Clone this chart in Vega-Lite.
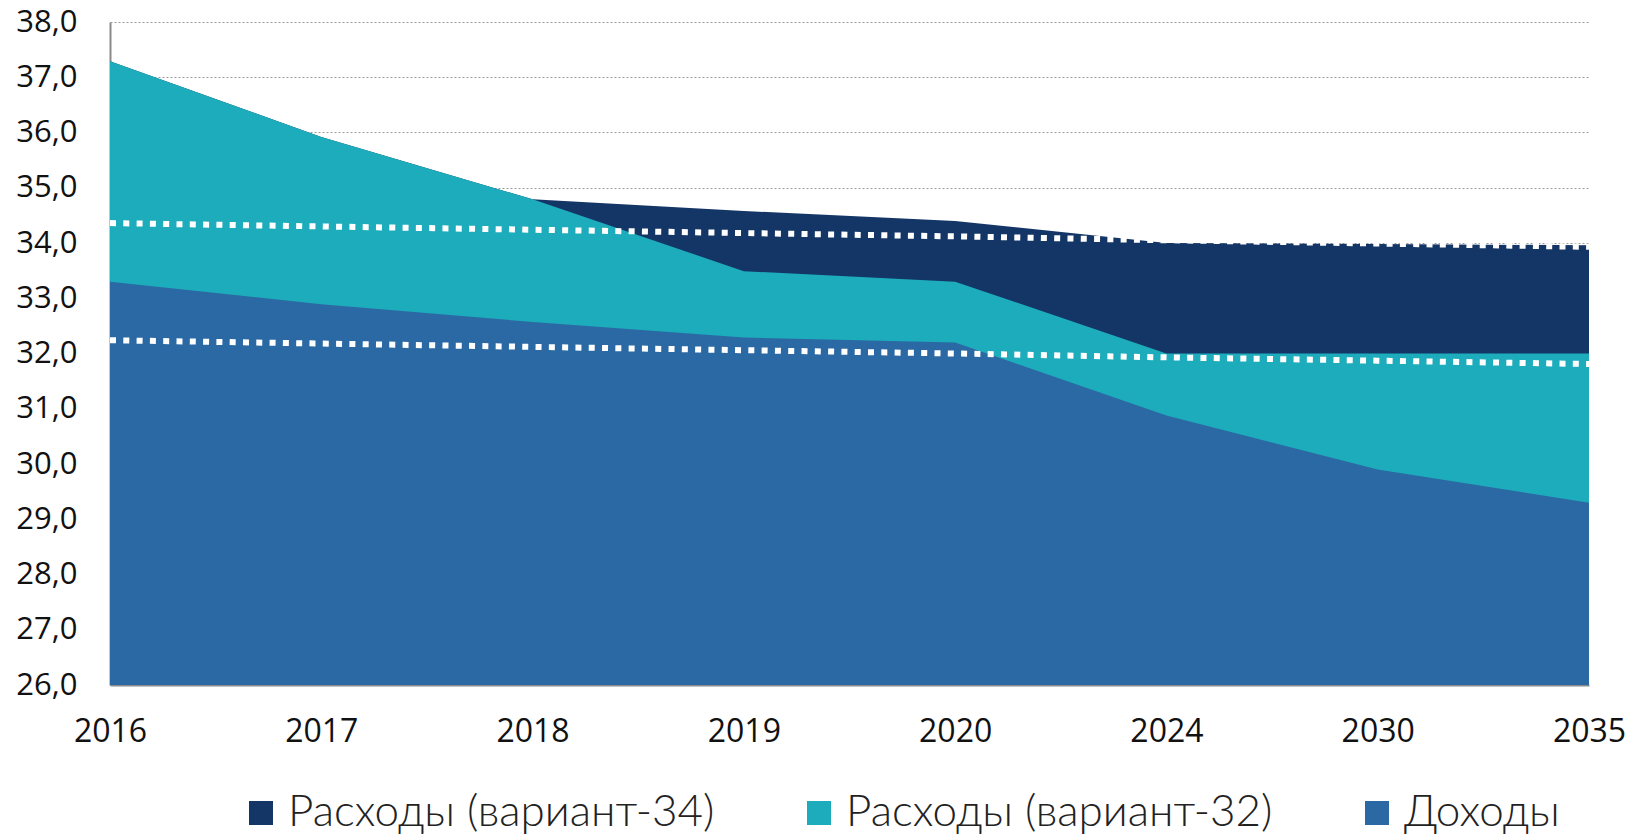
{
  "$schema": "https://vega.github.io/schema/vega-lite/v6.json",
  "width": 1479,
  "height": 663,
  "autosize": {"type": "none"},
  "padding": {"left": 110, "top": 22, "right": 40, "bottom": 152},
  "background": "white",
  "datasets": {
    "areas": [
      {"year": "2016", "series": "Расходы (вариант-34)", "value": 37.29},
      {"year": "2017", "series": "Расходы (вариант-34)", "value": 35.92},
      {"year": "2018", "series": "Расходы (вариант-34)", "value": 34.79},
      {"year": "2019", "series": "Расходы (вариант-34)", "value": 34.58},
      {"year": "2020", "series": "Расходы (вариант-34)", "value": 34.40},
      {"year": "2024", "series": "Расходы (вариант-34)", "value": 34.00},
      {"year": "2030", "series": "Расходы (вариант-34)", "value": 33.98},
      {"year": "2035", "series": "Расходы (вариант-34)", "value": 33.96},
      {"year": "2016", "series": "Расходы (вариант-32)", "value": 37.29},
      {"year": "2017", "series": "Расходы (вариант-32)", "value": 35.92},
      {"year": "2018", "series": "Расходы (вариант-32)", "value": 34.79},
      {"year": "2019", "series": "Расходы (вариант-32)", "value": 33.49},
      {"year": "2020", "series": "Расходы (вариант-32)", "value": 33.30},
      {"year": "2024", "series": "Расходы (вариант-32)", "value": 32.00},
      {"year": "2030", "series": "Расходы (вариант-32)", "value": 32.00},
      {"year": "2035", "series": "Расходы (вариант-32)", "value": 32.00},
      {"year": "2016", "series": "Доходы", "value": 33.30},
      {"year": "2017", "series": "Доходы", "value": 32.89},
      {"year": "2018", "series": "Доходы", "value": 32.57},
      {"year": "2019", "series": "Доходы", "value": 32.29},
      {"year": "2020", "series": "Доходы", "value": 32.20},
      {"year": "2024", "series": "Доходы", "value": 30.88},
      {"year": "2030", "series": "Доходы", "value": 29.90},
      {"year": "2035", "series": "Доходы", "value": 29.30}
    ],
    "trends": [
      {"year": "2016", "line": "upper", "value": 34.36},
      {"year": "2017", "line": "upper", "value": 34.30},
      {"year": "2018", "line": "upper", "value": 34.24},
      {"year": "2019", "line": "upper", "value": 34.18},
      {"year": "2020", "line": "upper", "value": 34.12},
      {"year": "2024", "line": "upper", "value": 34.05},
      {"year": "2030", "line": "upper", "value": 33.99},
      {"year": "2035", "line": "upper", "value": 33.93},
      {"year": "2016", "line": "lower", "value": 32.24},
      {"year": "2017", "line": "lower", "value": 32.18},
      {"year": "2018", "line": "lower", "value": 32.12},
      {"year": "2019", "line": "lower", "value": 32.06},
      {"year": "2020", "line": "lower", "value": 32.00},
      {"year": "2024", "line": "lower", "value": 31.93},
      {"year": "2030", "line": "lower", "value": 31.87},
      {"year": "2035", "line": "lower", "value": 31.81}
    ]
  },
  "encoding": {
    "x": {
      "field": "year",
      "type": "ordinal",
      "scale": {"type": "point", "padding": 0},
      "axis": {
        "title": null,
        "labelAngle": 0,
        "labelFont": "Open Sans",
        "labelFontSize": 32,
        "labelColor": "#111",
        "labelPadding": 31,
        "ticks": false,
        "domainColor": "#8a8a8a",
        "domainWidth": 2,
        "grid": false
      }
    },
    "y": {
      "field": "value",
      "type": "quantitative",
      "stack": null,
      "scale": {"domain": [26, 38], "zero": false, "nice": false},
      "axis": {
        "title": null,
        "values": [26, 27, 28, 29, 30, 31, 32, 33, 34, 35, 36, 37, 38],
        "labelExpr": "replace(format(datum.value, '.1f'), '.', ',')",
        "labelFont": "Open Sans",
        "labelFontSize": 31,
        "labelColor": "#111",
        "labelPadding": 33,
        "ticks": false,
        "domainColor": "#8a8a8a",
        "domainWidth": 2,
        "grid": true,
        "gridColor": "#9a9a9a",
        "gridDash": [2, 2],
        "gridWidth": 1
      }
    }
  },
  "layer": [
    {
      "data": {"name": "areas"},
      "transform": [{"filter": "datum.series === 'Расходы (вариант-34)'"}],
      "mark": {"type": "area", "opacity": 1},
      "encoding": {
        "y2": {"datum": 26},
        "color": {"field": "series", "type": "nominal"}
      }
    },
    {
      "data": {"name": "areas"},
      "transform": [{"filter": "datum.series === 'Расходы (вариант-32)'"}],
      "mark": {"type": "area", "opacity": 1},
      "encoding": {
        "y2": {"datum": 26},
        "color": {"field": "series", "type": "nominal"}
      }
    },
    {
      "data": {"name": "areas"},
      "transform": [{"filter": "datum.series === 'Доходы'"}],
      "mark": {"type": "area", "opacity": 1},
      "encoding": {
        "y2": {"datum": 26},
        "color": {
          "field": "series",
          "type": "nominal",
          "scale": {
            "domain": ["Расходы (вариант-34)", "Расходы (вариант-32)", "Доходы"],
            "range": ["#143666", "#1dacbb", "#2a69a4"]
          },
          "legend": {
            "title": null,
            "orient": "none",
            "direction": "horizontal",
            "legendX": 129,
            "legendY": 769,
            "gridAlign": "all",
            "symbolType": "square",
            "symbolSize": 576,
            "symbolStrokeWidth": 0,
            "symbolOpacity": 1,
            "labelFont": "Lato",
            "labelFontWeight": 300,
            "labelFontSize": 44,
            "labelColor": "#222",
            "labelOffset": 5,
            "labelLimit": 800,
            "columnPadding": 82
          }
        }
      }
    },
    {
      "data": {"name": "trends"},
      "mark": {"type": "line", "color": "white", "strokeWidth": 6, "strokeDash": [6, 7.3], "strokeCap": "butt"},
      "encoding": {"detail": {"field": "line"}}
    }
  ],
  "config": {"view": {"stroke": null}}
}
